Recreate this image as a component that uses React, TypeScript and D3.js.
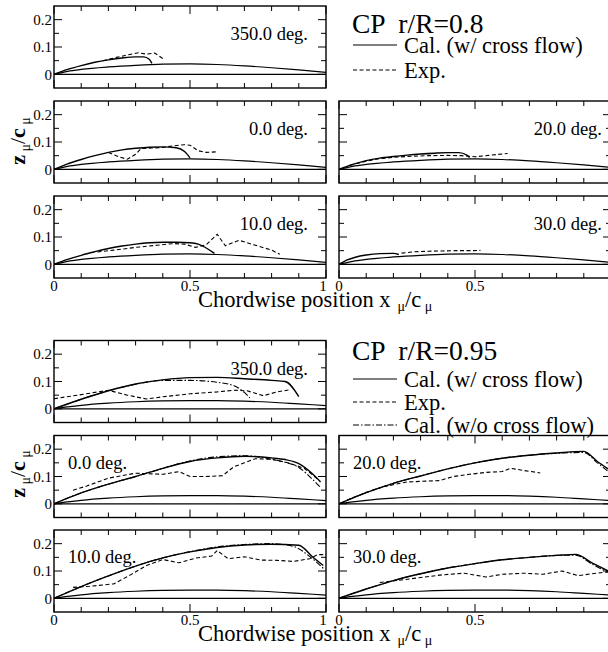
import React from 'react';
import * as d3 from 'd3';

const W = 608, H = 652;
const PANEL_W = 272, PANEL_H = 82;
const COL_X = [54, 339];
const ROW_Y_TOP = [6, 101, 196];
const ROW_Y_BOT = [340.5, 435.5, 530];

const xDomain: [number, number] = [0, 1];
const zDomain: [number, number] = [-0.05, 0.25];
const xMajorTicks = [0, 0.5, 1];
const xMinorTicks = [0.1, 0.2, 0.3, 0.4, 0.6, 0.7, 0.8, 0.9];
const xTickLabels = ['0', '0.5', '1'];
const zMajorTicks = [0, 0.1, 0.2];
const zMinorTicks = [0.05, 0.15];
const zTickLabels = ['0', '0.1', '0.2'];

// blade section upper surface
const bladeX = [0, 0.05, 0.1, 0.2, 0.3, 0.4, 0.5, 0.6, 0.7, 0.8, 0.9, 1];
const bladeZ08 = [0, 0.011, 0.018, 0.027, 0.033, 0.037, 0.038, 0.036, 0.031, 0.024, 0.016, 0.007];
const bladeZ095 = [0, 0.007, 0.013, 0.021, 0.026, 0.029, 0.030, 0.030, 0.028, 0.024, 0.018, 0.012];

// r/R = 0.8
const calc08_350_x = [0, 0.05, 0.1, 0.15, 0.2, 0.25, 0.3, 0.33, 0.35, 0.36];
const calc08_350_z = [0, 0.018, 0.032, 0.044, 0.053, 0.06, 0.064, 0.064, 0.055, 0.04];
const exp08_350_x = [0.18, 0.23, 0.27, 0.31, 0.34, 0.37, 0.40];
const exp08_350_z = [0.05, 0.062, 0.071, 0.079, 0.074, 0.078, 0.058];

const calc08_0_x = [0, 0.05, 0.1, 0.15, 0.2, 0.25, 0.3, 0.35, 0.4, 0.45, 0.48, 0.5];
const calc08_0_z = [0, 0.02, 0.036, 0.05, 0.062, 0.071, 0.077, 0.081, 0.082, 0.079, 0.065, 0.042];
const exp08_0_x = [0.2, 0.24, 0.27, 0.3, 0.32, 0.36, 0.4, 0.44, 0.48, 0.5, 0.53, 0.56, 0.6];
const exp08_0_z = [0.062, 0.045, 0.037, 0.055, 0.076, 0.078, 0.08, 0.086, 0.09, 0.088, 0.068, 0.062, 0.064];

const calc08_10_x = [0, 0.05, 0.1, 0.15, 0.2, 0.25, 0.3, 0.35, 0.4, 0.45, 0.5, 0.53, 0.59];
const calc08_10_z = [0, 0.018, 0.033, 0.046, 0.058, 0.067, 0.074, 0.079, 0.081, 0.081, 0.079, 0.074, 0.04];
const exp08_10_x = [0.16, 0.22, 0.3, 0.38, 0.44, 0.48, 0.52, 0.56, 0.6, 0.63, 0.68, 0.74, 0.8, 0.83];
const exp08_10_z = [0.045, 0.052, 0.062, 0.07, 0.076, 0.074, 0.062, 0.072, 0.11, 0.068, 0.088, 0.07, 0.052, 0.037];

const calc08_20_x = [0, 0.05, 0.1, 0.15, 0.2, 0.25, 0.3, 0.35, 0.4, 0.44, 0.47, 0.48];
const calc08_20_z = [0, 0.018, 0.032, 0.041, 0.047, 0.052, 0.056, 0.059, 0.061, 0.061, 0.052, 0.043];
const exp08_20_x = [0.04, 0.1, 0.15, 0.2, 0.27, 0.33, 0.4, 0.45, 0.5, 0.55, 0.62];
const exp08_20_z = [0.014, 0.03, 0.039, 0.044, 0.048, 0.05, 0.051, 0.05, 0.046, 0.051, 0.058];

const calc08_30_x = [0, 0.03, 0.06, 0.1, 0.15, 0.2, 0.22];
const calc08_30_z = [0, 0.016, 0.026, 0.034, 0.039, 0.04, 0.036];
const exp08_30_x = [0.23, 0.28, 0.33, 0.38, 0.43, 0.48, 0.52];
const exp08_30_z = [0.041, 0.046, 0.048, 0.049, 0.05, 0.05, 0.051];

// r/R = 0.95
const calc095_350_x = [0, 0.1, 0.2, 0.3, 0.4, 0.5, 0.6, 0.7, 0.8, 0.85, 0.9];
const calc095_350_z = [0, 0.035, 0.066, 0.091, 0.106, 0.114, 0.115, 0.11, 0.104, 0.1, 0.045];
const wo095_350_x = [0, 0.1, 0.2, 0.3, 0.4, 0.5, 0.6, 0.66, 0.7, 0.72];
const wo095_350_z = [0, 0.035, 0.066, 0.09, 0.104, 0.104, 0.097, 0.085, 0.06, 0.04];
const exp095_350_x = [0, 0.1, 0.2, 0.27, 0.34, 0.4, 0.5, 0.6, 0.66, 0.71, 0.77, 0.82, 0.87];
const exp095_350_z = [0.037, 0.052, 0.068, 0.05, 0.036, 0.044, 0.055, 0.062, 0.068, 0.066, 0.048, 0.062, 0.07];

const calc095_0_x = [0, 0.1, 0.2, 0.3, 0.4, 0.5, 0.6, 0.7, 0.8, 0.85, 0.9, 0.95, 0.98];
const calc095_0_z = [0, 0.04, 0.072, 0.1, 0.13, 0.155, 0.168, 0.174, 0.168, 0.162, 0.147, 0.11, 0.08];
const wo095_0_x = [0, 0.1, 0.2, 0.3, 0.4, 0.5, 0.6, 0.7, 0.8, 0.85, 0.9, 0.95, 0.98];
const wo095_0_z = [0, 0.04, 0.072, 0.1, 0.13, 0.157, 0.172, 0.176, 0.163, 0.152, 0.133, 0.09, 0.06];
const exp095_0_x = [0.07, 0.12, 0.2, 0.3, 0.4, 0.46, 0.5, 0.56, 0.62, 0.66, 0.7, 0.74, 0.8, 0.86, 0.92, 0.97];
const exp095_0_z = [0.05, 0.065, 0.094, 0.112, 0.108, 0.118, 0.1, 0.1, 0.103, 0.135, 0.15, 0.165, 0.163, 0.15, 0.13, 0.09];

const calc095_10_x = [0, 0.1, 0.2, 0.3, 0.4, 0.5, 0.6, 0.7, 0.8, 0.9, 0.95, 0.99];
const calc095_10_z = [0, 0.043, 0.082, 0.118, 0.148, 0.17, 0.186, 0.195, 0.198, 0.194, 0.152, 0.12];
const wo095_10_x = [0, 0.1, 0.2, 0.3, 0.4, 0.5, 0.6, 0.7, 0.8, 0.88, 0.95, 0.99];
const wo095_10_z = [0, 0.043, 0.082, 0.118, 0.148, 0.171, 0.188, 0.197, 0.2, 0.19, 0.145, 0.11];
const exp095_10_x = [0.07, 0.13, 0.22, 0.28, 0.34, 0.4, 0.46, 0.52, 0.58, 0.6, 0.64, 0.7, 0.76, 0.82, 0.88, 0.94, 0.97, 1.0];
const exp095_10_z = [0.04, 0.044, 0.053, 0.085, 0.12, 0.142, 0.13, 0.147, 0.155, 0.175, 0.145, 0.152, 0.14, 0.139, 0.135, 0.145, 0.16, 0.16];

const calc095_20_x = [0, 0.1, 0.2, 0.3, 0.4, 0.5, 0.6, 0.7, 0.8, 0.9, 0.95, 1.0];
const calc095_20_z = [0, 0.041, 0.075, 0.102, 0.128, 0.15, 0.167, 0.178, 0.186, 0.192, 0.155, 0.12];
const wo095_20_x = [0, 0.1, 0.2, 0.3, 0.4, 0.5, 0.6, 0.7, 0.8, 0.9, 0.95, 1.0];
const wo095_20_z = [0, 0.041, 0.075, 0.102, 0.128, 0.15, 0.167, 0.178, 0.185, 0.188, 0.15, 0.11];
const exp095_20_x = [0.03, 0.1, 0.17, 0.25, 0.32, 0.37, 0.42, 0.48, 0.54, 0.6, 0.63, 0.68, 0.74];
const exp095_20_z = [0.014, 0.042, 0.064, 0.08, 0.083, 0.085, 0.1, 0.108, 0.115, 0.118, 0.13, 0.122, 0.113];

const calc095_30_x = [0, 0.1, 0.2, 0.3, 0.4, 0.5, 0.6, 0.7, 0.8, 0.87, 0.93, 0.99];
const calc095_30_z = [0, 0.034, 0.065, 0.09, 0.111, 0.127, 0.141, 0.15, 0.157, 0.161, 0.13, 0.1];
const wo095_30_x = [0, 0.1, 0.2, 0.3, 0.4, 0.5, 0.6, 0.7, 0.8, 0.87, 0.93, 0.99];
const wo095_30_z = [0, 0.034, 0.065, 0.09, 0.111, 0.127, 0.141, 0.15, 0.157, 0.158, 0.125, 0.095];
const exp095_30_x = [0.15, 0.22, 0.3, 0.38, 0.46, 0.54, 0.6, 0.68, 0.75, 0.82, 0.88, 0.93, 0.99];
const exp095_30_z = [0.058, 0.066, 0.076, 0.086, 0.092, 0.078, 0.088, 0.092, 0.088, 0.1, 0.083, 0.09, 0.097];

const angleLabels = ['350.0 deg.', '0.0 deg.', '10.0 deg.', '20.0 deg.', '30.0 deg.'];
const legendTitles = ['CP  r/R=0.8', 'CP  r/R=0.95'];
const legendNames = ['Cal. (w/ cross flow)', 'Exp.', 'Cal. (w/o cross flow)'];

const FONT = "'Liberation Serif', 'Times New Roman', Times, serif";
const DASH = '4,2.5';
const DASHDOT = '6,2,1.5,2';

type Series = { x: number[]; z: number[]; kind: 'calc' | 'exp' | 'wo' };

const zip = (xs: number[], zs: number[]) => xs.map((v, i) => [v, zs[i]] as [number, number]);

function Panel(props: {
  px: number; py: number; blade: number[]; series: Series[];
  label: string; labelMode: 'rightTop' | 'rightCol' | 'left';
  yLabels: boolean; xLabels: boolean; xLabelCount?: number;
}) {
  const { px, py, blade, series, label, labelMode, yLabels, xLabels } = props;
  const xLabelCount = props.xLabelCount ?? 3;
  const x = d3.scaleLinear().domain(xDomain).range([px, px + PANEL_W]);
  const y = d3.scaleLinear().domain(zDomain).range([py + PANEL_H, py]);
  const id = `clip${px}_${Math.round(py)}`;
  const smooth = d3.line<[number, number]>().x(d => x(d[0])).y(d => y(d[1])).curve(d3.curveMonotoneX);
  const lin = d3.line<[number, number]>().x(d => x(d[0])).y(d => y(d[1]));
  const major = 8, minor = 5;
  let lx = 0, anchor: 'start' | 'end' = 'end';
  let ly = py + 34;
  if (labelMode === 'rightTop') { lx = px + PANEL_W - 18; anchor = 'end'; }
  else if (labelMode === 'rightCol') { lx = px + PANEL_W - 9; anchor = 'end'; }
  else { lx = px + 14; anchor = 'start'; ly = py + 33; }
  return (
    <g>
      <defs>
        <clipPath id={id}>
          <rect x={px} y={py} width={PANEL_W} height={PANEL_H} />
        </clipPath>
      </defs>
      <g clipPath={`url(#${id})`}>
        <line x1={x(0)} x2={x(1)} y1={y(0)} y2={y(0)} stroke="#000" strokeWidth={1.3} />
        <path d={smooth(zip(bladeX, blade)) || ''} fill="none" stroke="#000" strokeWidth={1.2} />
        {series.map((s, i) => (
          <path key={i}
            d={(s.kind === 'exp' ? lin : smooth)(zip(s.x, s.z)) || ''}
            fill="none" stroke="#000" strokeWidth={s.kind === 'calc' ? 1.4 : 1.1}
            strokeDasharray={s.kind === 'exp' ? DASH : s.kind === 'wo' ? DASHDOT : undefined} />
        ))}
      </g>
      {xMajorTicks.map(t => (
        <g key={'xM' + t}>
          <line x1={x(t)} x2={x(t)} y1={py} y2={py + major} stroke="#000" strokeWidth={1} />
          <line x1={x(t)} x2={x(t)} y1={py + PANEL_H} y2={py + PANEL_H - major} stroke="#000" strokeWidth={1} />
        </g>
      ))}
      {xMinorTicks.map(t => (
        <g key={'xm' + t}>
          <line x1={x(t)} x2={x(t)} y1={py} y2={py + minor} stroke="#000" strokeWidth={1} />
          <line x1={x(t)} x2={x(t)} y1={py + PANEL_H} y2={py + PANEL_H - minor} stroke="#000" strokeWidth={1} />
        </g>
      ))}
      {zMajorTicks.map(t => (
        <g key={'zM' + t}>
          <line x1={px} x2={px + major} y1={y(t)} y2={y(t)} stroke="#000" strokeWidth={1} />
          <line x1={px + PANEL_W} x2={px + PANEL_W - major} y1={y(t)} y2={y(t)} stroke="#000" strokeWidth={1} />
        </g>
      ))}
      {zMinorTicks.map(t => (
        <g key={'zm' + t}>
          <line x1={px} x2={px + minor} y1={y(t)} y2={y(t)} stroke="#000" strokeWidth={1} />
          <line x1={px + PANEL_W} x2={px + PANEL_W - minor} y1={y(t)} y2={y(t)} stroke="#000" strokeWidth={1} />
        </g>
      ))}
      <rect x={px} y={py} width={PANEL_W} height={PANEL_H} fill="none" stroke="#000" strokeWidth={1.4} />
      {yLabels && zMajorTicks.map((t, i) => (
        <text key={'yl' + t} x={px - 2} y={y(t)} dy="0.35em" textAnchor="end" fontSize={15} style={{ fontFamily: FONT }}>{zTickLabels[i]}</text>
      ))}
      {xLabels && xMajorTicks.slice(0, xLabelCount).map((t, i) => (
        <text key={'xl' + t} x={x(t) - (i === 2 ? 3 : 0)} y={py + PANEL_H + 13} textAnchor="middle" fontSize={15} style={{ fontFamily: FONT }}>{xTickLabels[i]}</text>
      ))}
      <text x={lx} y={ly} textAnchor={anchor} fontSize={18.5} style={{ fontFamily: FONT }}>{label}</text>
    </g>
  );
}

function Legend(props: { tx: number; titleY: number; rows: number[]; title: string; n: number }) {
  const { tx, titleY, rows, title, n } = props;
  const styles = [undefined, DASH, DASHDOT];
  return (
    <g style={{ fontFamily: FONT }}>
      <text x={tx} y={titleY} fontSize={27.5} style={{ whiteSpace: 'pre', fontFamily: FONT }}>{title}</text>
      {rows.slice(0, n).map((ry, i) => (
        <g key={i}>
          <line x1={tx + 1} x2={tx + 45} y1={ry} y2={ry} stroke="#000" strokeWidth={1.1} strokeDasharray={styles[i]} />
          <text x={tx + 52} y={ry + 7.5} fontSize={22.5} style={{ fontFamily: FONT }}>{legendNames[i]}</text>
        </g>
      ))}
    </g>
  );
}

function YTitle({ cx, cy }: { cx: number; cy: number }) {
  return (
    <text transform={`translate(${cx},${cy}) rotate(-90)`} textAnchor="middle" fontSize={22} style={{ fontFamily: FONT }}>
      <tspan fontWeight="bold">z</tspan>
      <tspan fontSize={14} dy={5}>{' μ'}</tspan>
      <tspan dy={-5}>/</tspan>
      <tspan fontWeight="bold">c</tspan>
      <tspan fontSize={14} dy={5}>{' μ'}</tspan>
    </text>
  );
}

function XTitle({ x0, by }: { x0: number; by: number }) {
  return (
    <text x={x0} y={by} fontSize={22.5} style={{ fontFamily: FONT, whiteSpace: 'pre' }}>
      {'Chordwise position x'}
      <tspan fontSize={14} dy={4}>{'  μ'}</tspan>
      <tspan dy={-4}>/c</tspan>
      <tspan fontSize={14} dy={4}>{' μ'}</tspan>
    </text>
  );
}

export default function App() {
  const S = (x: number[], z: number[], kind: Series['kind']): Series => ({ x, z, kind });
  return (
    <svg width={W} height={H} style={{ display: 'block', position: 'absolute', left: 0, top: 0 }}>
      <rect width={W} height={H} fill="#fff" />
      {/* r/R = 0.8 */}
      <Panel px={COL_X[0]} py={ROW_Y_TOP[0]} blade={bladeZ08} label={angleLabels[0]} labelMode="rightTop" yLabels xLabels={false}
        series={[S(calc08_350_x, calc08_350_z, 'calc'), S(exp08_350_x, exp08_350_z, 'exp')]} />
      <Panel px={COL_X[0]} py={ROW_Y_TOP[1]} blade={bladeZ08} label={angleLabels[1]} labelMode="rightTop" yLabels xLabels={false}
        series={[S(calc08_0_x, calc08_0_z, 'calc'), S(exp08_0_x, exp08_0_z, 'exp')]} />
      <Panel px={COL_X[0]} py={ROW_Y_TOP[2]} blade={bladeZ08} label={angleLabels[2]} labelMode="rightTop" yLabels xLabels
        series={[S(calc08_10_x, calc08_10_z, 'calc'), S(exp08_10_x, exp08_10_z, 'exp')]} />
      <Panel px={COL_X[1]} py={ROW_Y_TOP[1]} blade={bladeZ08} label={angleLabels[3]} labelMode="rightCol" yLabels={false} xLabels={false}
        series={[S(calc08_20_x, calc08_20_z, 'calc'), S(exp08_20_x, exp08_20_z, 'exp')]} />
      <Panel px={COL_X[1]} py={ROW_Y_TOP[2]} blade={bladeZ08} label={angleLabels[4]} labelMode="rightCol" yLabels={false} xLabels xLabelCount={2}
        series={[S(calc08_30_x, calc08_30_z, 'calc'), S(exp08_30_x, exp08_30_z, 'exp')]} />
      <Legend tx={352} titleY={33} rows={[45, 70]} title={legendTitles[0]} n={2} />
      <YTitle cx={25} cy={141} />
      <XTitle x0={198} by={307} />

      {/* r/R = 0.95 */}
      <Panel px={COL_X[0]} py={ROW_Y_BOT[0]} blade={bladeZ095} label={angleLabels[0]} labelMode="rightTop" yLabels xLabels={false}
        series={[S(calc095_350_x, calc095_350_z, 'calc'), S(wo095_350_x, wo095_350_z, 'wo'), S(exp095_350_x, exp095_350_z, 'exp')]} />
      <Panel px={COL_X[0]} py={ROW_Y_BOT[1]} blade={bladeZ095} label={angleLabels[1]} labelMode="left" yLabels xLabels={false}
        series={[S(calc095_0_x, calc095_0_z, 'calc'), S(wo095_0_x, wo095_0_z, 'wo'), S(exp095_0_x, exp095_0_z, 'exp')]} />
      <Panel px={COL_X[0]} py={ROW_Y_BOT[2]} blade={bladeZ095} label={angleLabels[2]} labelMode="left" yLabels xLabels
        series={[S(calc095_10_x, calc095_10_z, 'calc'), S(wo095_10_x, wo095_10_z, 'wo'), S(exp095_10_x, exp095_10_z, 'exp')]} />
      <Panel px={COL_X[1]} py={ROW_Y_BOT[1]} blade={bladeZ095} label={angleLabels[3]} labelMode="left" yLabels={false} xLabels={false}
        series={[S(calc095_20_x, calc095_20_z, 'calc'), S(wo095_20_x, wo095_20_z, 'wo'), S(exp095_20_x, exp095_20_z, 'exp')]} />
      <Panel px={COL_X[1]} py={ROW_Y_BOT[2]} blade={bladeZ095} label={angleLabels[4]} labelMode="left" yLabels={false} xLabels xLabelCount={2}
        series={[S(calc095_30_x, calc095_30_z, 'calc'), S(wo095_30_x, wo095_30_z, 'wo'), S(exp095_30_x, exp095_30_z, 'exp')]} />
      <Legend tx={352} titleY={360} rows={[379, 402, 425]} title={legendTitles[1]} n={3} />
      <YTitle cx={25} cy={474} />
      <XTitle x0={198} by={641} />
    </svg>
  );
}
